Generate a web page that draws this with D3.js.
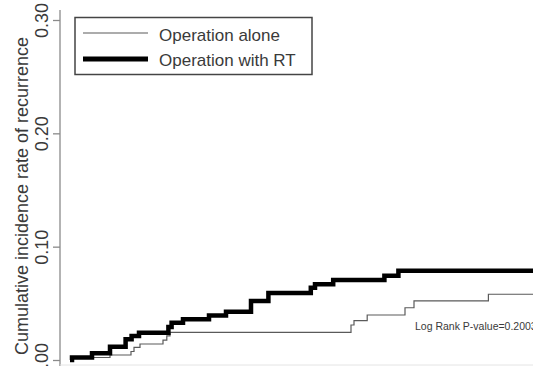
<!DOCTYPE html>
<html>
<head>
<meta charset="utf-8">
<script src="https://cdn.jsdelivr.net/npm/d3@7"></script>
<style>
  html, body { margin: 0; padding: 0; background: #fff; }
  svg { display: block; font-family: "Liberation Sans", Arial, Helvetica, sans-serif; }
</style>
</head>
<body>
<svg id="chart" width="533" height="366"></svg>
<script>
// Cumulative incidence of recurrence (months of follow-up vs. rate)
const aloneTimes  = [0, 0.5, 10, 15.25, 16, 17.5, 23.25, 24.2, 25, 70.25, 71, 74.3, 83.75, 86, 104.6, 120];
const aloneValues = [0, 0.0022, 0.0044, 0.0075, 0.0112, 0.0141, 0.0176, 0.0212, 0.0244, 0.0309, 0.0347, 0.0397, 0.0461, 0.0521, 0.058, 0.058];

const rtTimes  = [0, 0.5, 5.5, 10, 13.9, 15.4, 17.25, 24.6, 25.4, 28.25, 34.75, 39, 45.25, 49.6, 60.2, 61.25, 65.8, 78.6, 82.1, 120];
const rtValues = [0, 0.0022, 0.0059, 0.0118, 0.0183, 0.0212, 0.0241, 0.0291, 0.0329, 0.0359, 0.0393, 0.0426, 0.0521, 0.0591, 0.0638, 0.0668, 0.0706, 0.0744, 0.0788, 0.0788];

const yTicks = [0, 0.1, 0.2, 0.3];
const seriesNames = ["Operation alone", "Operation with RT"];
const yLabel = "Cumulative incidence rate of recurrence";
const pValueText = "Log Rank P-value=0.2003";

const svg = d3.select("#chart");
const W = 533, H = 366;
const textColor = "#3a3a3a";

const x = d3.scaleLinear().domain([0, 120]).range([70, 550]);
const y = d3.scaleLinear().domain([0, 0.3]).range([360, 20]);

// y axis
const axisX = 60;
svg.append("line")
  .attr("x1", axisX).attr("x2", axisX)
  .attr("y1", 10).attr("y2", H)
  .attr("stroke", "#8a8a8a").attr("stroke-width", 1.3);

const yAxis = d3.axisLeft(y).tickValues(yTicks).tickFormat(d3.format(".2f"))
  .tickSize(7).tickSizeOuter(0);
const gy = svg.append("g").attr("transform", `translate(${axisX},0)`).call(yAxis);
gy.select(".domain").remove();
gy.selectAll(".tick line").attr("stroke", "#8a8a8a").attr("stroke-width", 1.3);
gy.selectAll(".tick text")
  .attr("x", null).attr("dy", null)
  .attr("transform", "translate(-12,0) rotate(-90)")
  .attr("text-anchor", "middle")
  .attr("fill", textColor)
  .style("font-size", "18px")
  .style("font-family", "'Liberation Sans', Arial, sans-serif");

// y axis title
svg.append("text")
  .attr("transform", `translate(28,196) rotate(-90)`)
  .attr("text-anchor", "middle")
  .attr("fill", textColor)
  .style("font-size", "18px")
  .text(yLabel);

// faint bottom rule
svg.append("line")
  .attr("x1", axisX).attr("x2", W)
  .attr("y1", 365).attr("y2", 365)
  .attr("stroke", "#e4e4e4").attr("stroke-width", 1);

// step curves
const line = d3.line().curve(d3.curveStepAfter)
  .x(d => x(d[0])).y(d => y(d[1]));

svg.append("path")
  .datum(d3.zip(aloneTimes, aloneValues))
  .attr("d", line)
  .attr("fill", "none")
  .attr("stroke", "#5a5a5a")
  .attr("stroke-width", 1.2);

svg.append("path")
  .datum(d3.zip(rtTimes, rtValues))
  .attr("d", line)
  .attr("fill", "none")
  .attr("stroke", "#000")
  .attr("stroke-width", 4.5)
  .attr("stroke-linejoin", "miter");

// p-value annotation
svg.append("text")
  .attr("x", 415).attr("y", 330)
  .attr("fill", textColor)
  .style("font-size", "10.5px")
  .text(pValueText);

// legend
const legend = svg.append("g");
legend.append("rect")
  .attr("x", 75).attr("y", 17.5)
  .attr("width", 237).attr("height", 57)
  .attr("fill", "#fff")
  .attr("stroke", "#444").attr("stroke-width", 1.5);

const legendStyles = [
  { stroke: "#5a5a5a", width: 1.2, ly: 33, ty: 40.5 },
  { stroke: "#000", width: 5, ly: 59, ty: 65.5 }
];
seriesNames.forEach((name, i) => {
  const s = legendStyles[i];
  legend.append("line")
    .attr("x1", 83).attr("x2", 148)
    .attr("y1", s.ly).attr("y2", s.ly)
    .attr("stroke", s.stroke).attr("stroke-width", s.width);
  legend.append("text")
    .attr("x", 159).attr("y", s.ty)
    .attr("fill", textColor)
    .style("font-size", "17px")
    .text(name);
});
</script>
</body>
</html>
